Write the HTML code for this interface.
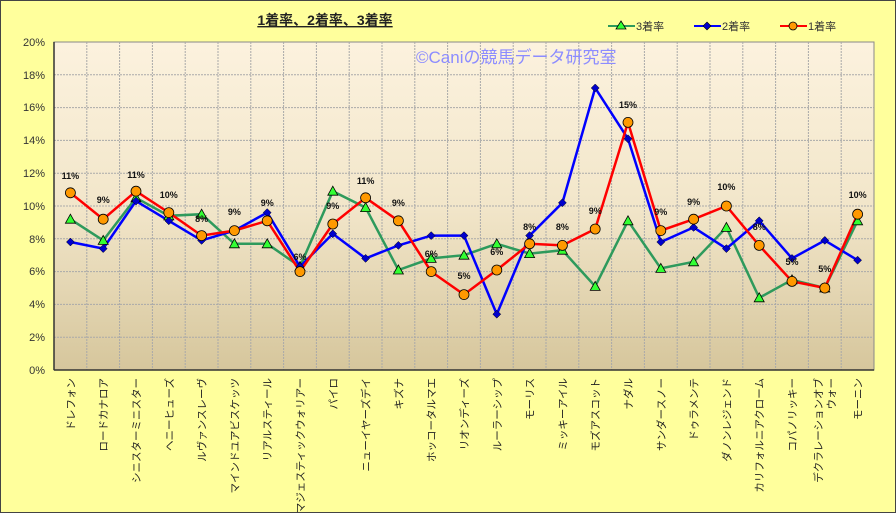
<!DOCTYPE html>
<html><head><meta charset="utf-8"><style>body{margin:0;background:#fff}svg{display:block}</style></head><body>
<svg width="896" height="513" xmlns="http://www.w3.org/2000/svg" font-family="'Liberation Sans','Noto Sans CJK JP',sans-serif">
<defs><linearGradient id="g" x1="0" y1="0" x2="0" y2="1"><stop offset="0" stop-color="#FCF2DE"/><stop offset="0.5" stop-color="#F2E6CA"/><stop offset="1" stop-color="#D6C69C"/></linearGradient></defs>
<rect x="0.5" y="0.5" width="895" height="512" fill="#FFFF9C" stroke="#444"/>
<rect x="54" y="42" width="820" height="328" fill="url(#g)" stroke="#888"/>
<g stroke="#a9a9a9" stroke-dasharray="2,1" stroke-width="1">
<line x1="54" x2="874" y1="74.8" y2="74.8"/><line x1="54" x2="874" y1="107.6" y2="107.6"/><line x1="54" x2="874" y1="140.4" y2="140.4"/><line x1="54" x2="874" y1="173.2" y2="173.2"/><line x1="54" x2="874" y1="206" y2="206"/><line x1="54" x2="874" y1="238.8" y2="238.8"/><line x1="54" x2="874" y1="271.6" y2="271.6"/><line x1="54" x2="874" y1="304.4" y2="304.4"/><line x1="54" x2="874" y1="337.2" y2="337.2"/>
<line y1="42" y2="370" x1="86.8" x2="86.8"/><line y1="42" y2="370" x1="119.6" x2="119.6"/><line y1="42" y2="370" x1="152.4" x2="152.4"/><line y1="42" y2="370" x1="185.2" x2="185.2"/><line y1="42" y2="370" x1="218" x2="218"/><line y1="42" y2="370" x1="250.8" x2="250.8"/><line y1="42" y2="370" x1="283.6" x2="283.6"/><line y1="42" y2="370" x1="316.4" x2="316.4"/><line y1="42" y2="370" x1="349.2" x2="349.2"/><line y1="42" y2="370" x1="382" x2="382"/><line y1="42" y2="370" x1="414.8" x2="414.8"/><line y1="42" y2="370" x1="447.6" x2="447.6"/><line y1="42" y2="370" x1="480.4" x2="480.4"/><line y1="42" y2="370" x1="513.2" x2="513.2"/><line y1="42" y2="370" x1="546" x2="546"/><line y1="42" y2="370" x1="578.8" x2="578.8"/><line y1="42" y2="370" x1="611.6" x2="611.6"/><line y1="42" y2="370" x1="644.4" x2="644.4"/><line y1="42" y2="370" x1="677.2" x2="677.2"/><line y1="42" y2="370" x1="710" x2="710"/><line y1="42" y2="370" x1="742.8" x2="742.8"/><line y1="42" y2="370" x1="775.6" x2="775.6"/><line y1="42" y2="370" x1="808.4" x2="808.4"/><line y1="42" y2="370" x1="841.2" x2="841.2"/>
</g>
<line x1="54" y1="42" x2="54" y2="370" stroke="#333" stroke-width="1.5"/>
<line x1="54" y1="370" x2="874" y2="370" stroke="#333" stroke-width="1.5"/>
<g font-size="11" fill="#333" text-anchor="end">
<text x="45" y="46">20%</text><text x="45" y="79">18%</text><text x="45" y="111">16%</text><text x="45" y="144">14%</text><text x="45" y="177">12%</text><text x="45" y="210">10%</text><text x="45" y="243">8%</text><text x="45" y="275">6%</text><text x="45" y="308">4%</text><text x="45" y="341">2%</text><text x="45" y="374">0%</text>
</g>
<text x="325" y="25" font-size="14" font-weight="bold" text-anchor="middle" fill="#222" text-decoration="underline">1着率、2着率、3着率</text>
<text x="416" y="63" font-size="17" fill="#8C8CFF">©Caniの競馬データ研究室</text>
<g font-size="11" fill="#333">
<line x1="608" y1="26" x2="635" y2="26" stroke="#2E9A5C" stroke-width="2"/><polygon points="621,21 626,29 616,29" fill="#3f3" stroke="#000" stroke-width="0.8"/><text x="636" y="30">3着率</text>
<line x1="694" y1="26" x2="721" y2="26" stroke="#0000FF" stroke-width="2"/><polygon points="707,22 711,26 707,30 703,26" fill="#00c" stroke="#000" stroke-width="0.6"/><text x="722" y="30">2着率</text>
<line x1="780" y1="26" x2="807" y2="26" stroke="#FF0000" stroke-width="2"/><circle cx="793" cy="26" r="4" fill="#F90" stroke="#000" stroke-width="0.8"/><text x="808" y="30">1着率</text>
</g>
<polyline fill="none" stroke="#2E9A5C" stroke-width="2.5" points="70.4,219.2 103.2,240.4 136,197.8 168.8,215.8 201.6,214.2 234.4,243.8 267.2,243.8 300,266.6 332.8,191.2 365.6,207.6 398.4,270 431.2,258.4 464,255.2 496.8,243.8 529.6,253.6 562.4,250.2 595.2,286.4 628,220.8 660.8,268.4 693.6,261.8 726.4,227.4 759.2,297.8 792,279.8 824.8,288 857.6,220.8"/>
<polyline fill="none" stroke="#0000FF" stroke-width="2.5" points="70.4,242 103.2,248.6 136,201 168.8,220.8 201.6,240.4 234.4,230.6 267.2,212.6 300,266.6 332.8,233.8 365.6,258.4 398.4,245.4 431.2,235.6 464,235.6 496.8,314.2 529.6,235.6 562.4,202.8 595.2,88 628,138.8 660.8,242 693.6,227.4 726.4,248.6 759.2,220.8 792,258.4 824.8,240.4 857.6,260.2"/>
<polyline fill="none" stroke="#FF0000" stroke-width="2.5" points="70.4,192.8 103.2,219.2 136,191.2 168.8,212.6 201.6,235.6 234.4,230.6 267.2,220.8 300,271.6 332.8,224 365.6,197.8 398.4,220.8 431.2,271.6 464,294.6 496.8,270 529.6,243.8 562.4,245.4 595.2,229 628,122.4 660.8,230.6 693.6,219.2 726.4,206 759.2,245.4 792,281.4 824.8,288 857.6,214.2"/>
<g fill="#3f3" stroke="#000" stroke-width="0.8">
<polygon points="70.4,214.2 75.4,223.2 65.4,223.2"/><polygon points="103.2,235.4 108.2,244.4 98.2,244.4"/><polygon points="136,192.8 141,201.8 131,201.8"/><polygon points="168.8,210.8 173.8,219.8 163.8,219.8"/><polygon points="201.6,209.2 206.6,218.2 196.6,218.2"/><polygon points="234.4,238.8 239.4,247.8 229.4,247.8"/><polygon points="267.2,238.8 272.2,247.8 262.2,247.8"/><polygon points="300,261.6 305,270.6 295,270.6"/><polygon points="332.8,186.2 337.8,195.2 327.8,195.2"/><polygon points="365.6,202.6 370.6,211.6 360.6,211.6"/><polygon points="398.4,265 403.4,274 393.4,274"/><polygon points="431.2,253.4 436.2,262.4 426.2,262.4"/><polygon points="464,250.2 469,259.2 459,259.2"/><polygon points="496.8,238.8 501.8,247.8 491.8,247.8"/><polygon points="529.6,248.6 534.6,257.6 524.6,257.6"/><polygon points="562.4,245.2 567.4,254.2 557.4,254.2"/><polygon points="595.2,281.4 600.2,290.4 590.2,290.4"/><polygon points="628,215.8 633,224.8 623,224.8"/><polygon points="660.8,263.4 665.8,272.4 655.8,272.4"/><polygon points="693.6,256.8 698.6,265.8 688.6,265.8"/><polygon points="726.4,222.4 731.4,231.4 721.4,231.4"/><polygon points="759.2,292.8 764.2,301.8 754.2,301.8"/><polygon points="792,274.8 797,283.8 787,283.8"/><polygon points="824.8,283 829.8,292 819.8,292"/><polygon points="857.6,215.8 862.6,224.8 852.6,224.8"/>
</g>
<g fill="#00c" stroke="#000" stroke-width="0.5">
<polygon points="70.4,238 74.4,242 70.4,246 66.4,242"/><polygon points="103.2,244.6 107.2,248.6 103.2,252.6 99.2,248.6"/><polygon points="136,197 140,201 136,205 132,201"/><polygon points="168.8,216.8 172.8,220.8 168.8,224.8 164.8,220.8"/><polygon points="201.6,236.4 205.6,240.4 201.6,244.4 197.6,240.4"/><polygon points="234.4,226.6 238.4,230.6 234.4,234.6 230.4,230.6"/><polygon points="267.2,208.6 271.2,212.6 267.2,216.6 263.2,212.6"/><polygon points="300,262.6 304,266.6 300,270.6 296,266.6"/><polygon points="332.8,229.8 336.8,233.8 332.8,237.8 328.8,233.8"/><polygon points="365.6,254.4 369.6,258.4 365.6,262.4 361.6,258.4"/><polygon points="398.4,241.4 402.4,245.4 398.4,249.4 394.4,245.4"/><polygon points="431.2,231.6 435.2,235.6 431.2,239.6 427.2,235.6"/><polygon points="464,231.6 468,235.6 464,239.6 460,235.6"/><polygon points="496.8,310.2 500.8,314.2 496.8,318.2 492.8,314.2"/><polygon points="529.6,231.6 533.6,235.6 529.6,239.6 525.6,235.6"/><polygon points="562.4,198.8 566.4,202.8 562.4,206.8 558.4,202.8"/><polygon points="595.2,84 599.2,88 595.2,92 591.2,88"/><polygon points="628,134.8 632,138.8 628,142.8 624,138.8"/><polygon points="660.8,238 664.8,242 660.8,246 656.8,242"/><polygon points="693.6,223.4 697.6,227.4 693.6,231.4 689.6,227.4"/><polygon points="726.4,244.6 730.4,248.6 726.4,252.6 722.4,248.6"/><polygon points="759.2,216.8 763.2,220.8 759.2,224.8 755.2,220.8"/><polygon points="792,254.4 796,258.4 792,262.4 788,258.4"/><polygon points="824.8,236.4 828.8,240.4 824.8,244.4 820.8,240.4"/><polygon points="857.6,256.2 861.6,260.2 857.6,264.2 853.6,260.2"/>
</g>
<g fill="#F90" stroke="#000" stroke-width="0.8">
<circle cx="70.4" cy="192.8" r="5"/><circle cx="103.2" cy="219.2" r="5"/><circle cx="136" cy="191.2" r="5"/><circle cx="168.8" cy="212.6" r="5"/><circle cx="201.6" cy="235.6" r="5"/><circle cx="234.4" cy="230.6" r="5"/><circle cx="267.2" cy="220.8" r="5"/><circle cx="300" cy="271.6" r="5"/><circle cx="332.8" cy="224" r="5"/><circle cx="365.6" cy="197.8" r="5"/><circle cx="398.4" cy="220.8" r="5"/><circle cx="431.2" cy="271.6" r="5"/><circle cx="464" cy="294.6" r="5"/><circle cx="496.8" cy="270" r="5"/><circle cx="529.6" cy="243.8" r="5"/><circle cx="562.4" cy="245.4" r="5"/><circle cx="595.2" cy="229" r="5"/><circle cx="628" cy="122.4" r="5"/><circle cx="660.8" cy="230.6" r="5"/><circle cx="693.6" cy="219.2" r="5"/><circle cx="726.4" cy="206" r="5"/><circle cx="759.2" cy="245.4" r="5"/><circle cx="792" cy="281.4" r="5"/><circle cx="824.8" cy="288" r="5"/><circle cx="857.6" cy="214.2" r="5"/>
</g>
<g font-size="9" font-weight="bold" fill="#111" text-anchor="middle">
<text x="70.4" y="179">11%</text><text x="103.2" y="203">9%</text><text x="136" y="178">11%</text><text x="168.8" y="198">10%</text><text x="201.6" y="222">8%</text><text x="234.4" y="215">9%</text><text x="267.2" y="206">9%</text><text x="300" y="260">6%</text><text x="332.8" y="209">9%</text><text x="365.6" y="184">11%</text><text x="398.4" y="206">9%</text><text x="431.2" y="257">6%</text><text x="464" y="279">5%</text><text x="496.8" y="255">6%</text><text x="529.6" y="230">8%</text><text x="562.4" y="230">8%</text><text x="595.2" y="214">9%</text><text x="628" y="108">15%</text><text x="660.8" y="215">9%</text><text x="693.6" y="205">9%</text><text x="726.4" y="190">10%</text><text x="759.2" y="230">8%</text><text x="792" y="265">5%</text><text x="824.8" y="272">5%</text><text x="857.6" y="198">10%</text>
</g>
<g font-size="10.5" fill="#222" text-anchor="end">
<text transform="translate(74.4,378) rotate(-90)">ドレフォン</text>
<text transform="translate(107.2,378) rotate(-90)">ロードカナロア</text>
<text transform="translate(140,378) rotate(-90)">シニスターミニスター</text>
<text transform="translate(172.8,378) rotate(-90)">ヘニーヒューズ</text>
<text transform="translate(205.6,378) rotate(-90)">ルヴァンスレーヴ</text>
<text transform="translate(238.4,378) rotate(-90)">マインドユアビスケッツ</text>
<text transform="translate(271.2,378) rotate(-90)">リアルスティール</text>
<text transform="translate(304,378) rotate(-90)">マジェスティックウォリアー</text>
<text transform="translate(336.8,378) rotate(-90)">パイロ</text>
<text transform="translate(369.6,378) rotate(-90)">ニューイヤーズデイ</text>
<text transform="translate(402.4,378) rotate(-90)">キズナ</text>
<text transform="translate(435.2,378) rotate(-90)">ホッコータルマエ</text>
<text transform="translate(468,378) rotate(-90)">リオンディーズ</text>
<text transform="translate(500.8,378) rotate(-90)">ルーラーシップ</text>
<text transform="translate(533.6,378) rotate(-90)">モーリス</text>
<text transform="translate(566.4,378) rotate(-90)">ミッキーアイル</text>
<text transform="translate(599.2,378) rotate(-90)">モズアスコット</text>
<text transform="translate(632,378) rotate(-90)">ナダル</text>
<text transform="translate(664.8,378) rotate(-90)">サンダースノー</text>
<text transform="translate(697.6,378) rotate(-90)">ドゥラメンテ</text>
<text transform="translate(730.4,378) rotate(-90)">ダノンレジェンド</text>
<text transform="translate(763.2,378) rotate(-90)">カリフォルニアクローム</text>
<text transform="translate(796,378) rotate(-90)">コパノリッキー</text>
<text transform="translate(822,378) rotate(-90)">デクラレーションオブ</text>
<text transform="translate(835,378) rotate(-90)">ウォー</text>
<text transform="translate(861.6,378) rotate(-90)">モーニン</text>
</g>
</svg>
</body></html>
